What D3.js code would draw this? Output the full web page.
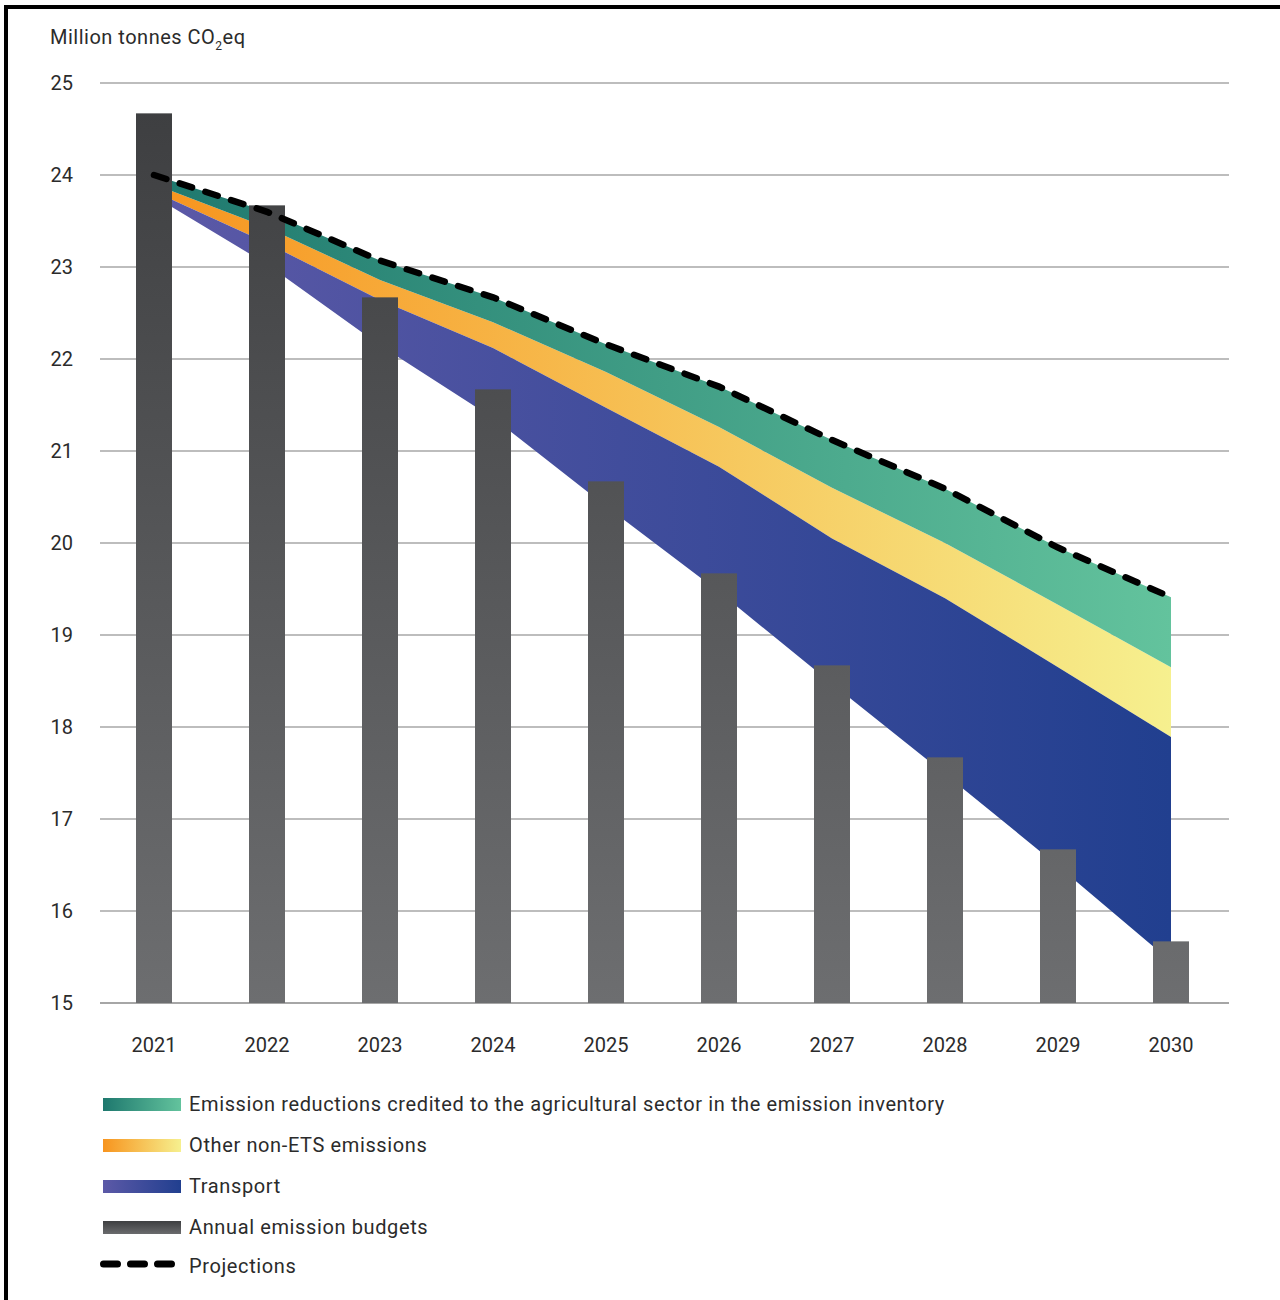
<!DOCTYPE html>
<html>
<head>
<meta charset="utf-8">
<script src="https://cdn.jsdelivr.net/npm/d3@7"></script>
<style>
  html, body { margin: 0; padding: 0; background: #fff; }
  svg { display: block; }
  text { font-family: Roboto, "Noto Sans", sans-serif; fill: #2b2b2b; }
</style>
</head>
<body>
<svg id="chart" width="1280" height="1300"></svg>
<script>
// Non-ETS emissions: annual budgets vs. projected path, 2021–2030
const years = [2021, 2022, 2023, 2024, 2025, 2026, 2027, 2028, 2029, 2030];
// Annual emission budgets (Mt CO2eq)
const budgets = [24.67, 23.67, 22.67, 21.67, 20.67, 19.67, 18.67, 17.67, 16.67, 15.67];
// Projected emissions (Mt CO2eq)
const projections = [24.0, 23.6, 23.07, 22.67, 22.16, 21.7, 21.12, 20.59, 19.95, 19.41];
// Layers stacked downward from the projection line (Mt CO2eq)
const agriCredits = [0.10, 0.17, 0.21, 0.27, 0.30, 0.44, 0.52, 0.59, 0.62, 0.76];
const otherNonEts = [0.08, 0.17, 0.22, 0.28, 0.39, 0.43, 0.55, 0.60, 0.68, 0.76];
const transport   = [0.05, 0.23, 0.49, 0.76, 1.07, 1.36, 1.58, 1.91, 2.16, 2.44];
const yTicks = [15, 16, 17, 18, 19, 20, 21, 22, 23, 24, 25];

const legendItems = [
  { label: "Emission reductions credited to the agricultural sector in the emission inventory", kind: "swatch", grad: "lg-green" },
  { label: "Other non-ETS emissions", kind: "swatch", grad: "lg-orange" },
  { label: "Transport", kind: "swatch", grad: "lg-blue" },
  { label: "Annual emission budgets", kind: "swatch", grad: "lg-gray" },
  { label: "Projections", kind: "dash" }
];

const svg = d3.select("#chart");

// Frame lines along the top and left edges
svg.append("path")
  .attr("d", "M6,1300 V7 H1280")
  .attr("fill", "none")
  .attr("stroke", "#000")
  .attr("stroke-width", 4);

const x = d3.scalePoint().domain(years).range([154, 1171]);
const y = d3.scaleLinear().domain([15, 25]).range([1003, 83]);
const gridX0 = 100, gridX1 = 1229;
const barW = 36;

// Gradients
const defs = svg.append("defs");
function hGrad(id, c0, c1, user) {
  const g = defs.append("linearGradient").attr("id", id);
  if (user) {
    g.attr("gradientUnits", "userSpaceOnUse")
      .attr("x1", x(years[0])).attr("x2", x(years[years.length - 1]))
      .attr("y1", 0).attr("y2", 0);
  } else {
    g.attr("x1", "0%").attr("x2", "100%").attr("y1", "0%").attr("y2", "0%");
  }
  g.append("stop").attr("offset", "0%").attr("stop-color", c0);
  g.append("stop").attr("offset", "100%").attr("stop-color", c1);
}
const green = ["#1e786e", "#63c39d"];
const orange = ["#f7941e", "#f6f08f"];
const blue = ["#5c59a7", "#213f8f"];
const gray = ["#3e3f41", "#6d6e70"];
hGrad("g-green", ...green, true);
hGrad("g-orange", ...orange, true);
hGrad("g-blue", ...blue, true);
hGrad("lg-green", ...green, false);
hGrad("lg-orange", ...orange, false);
hGrad("lg-blue", ...blue, false);
const barGrad = defs.append("linearGradient").attr("id", "g-bar")
  .attr("gradientUnits", "userSpaceOnUse")
  .attr("x1", 0).attr("x2", 0).attr("y1", y(24.7)).attr("y2", y(15));
barGrad.append("stop").attr("offset", "0%").attr("stop-color", gray[0]);
barGrad.append("stop").attr("offset", "100%").attr("stop-color", gray[1]);
const lgGray = defs.append("linearGradient").attr("id", "lg-gray")
  .attr("x1", "0%").attr("x2", "0%").attr("y1", "0%").attr("y2", "100%");
lgGray.append("stop").attr("offset", "0%").attr("stop-color", "#3e3f41");
lgGray.append("stop").attr("offset", "100%").attr("stop-color", "#6a6b6d");

// Axis title
const title = svg.append("text").attr("x", 50).attr("y", 44)
  .style("font-size", "20px").style("letter-spacing", "0.5px");
title.append("tspan").text("Million tonnes CO");
title.append("tspan").attr("dy", 6).style("font-size", "12px").text("2");
title.append("tspan").attr("dy", -6).text("eq");

// Horizontal grid
svg.append("g").selectAll("line").data(yTicks).join("line")
  .attr("x1", gridX0).attr("x2", gridX1)
  .attr("y1", d => y(d)).attr("y2", d => y(d))
  .attr("stroke", d => d === 15 ? "#a6a6a6" : "#7d7d7d")
  .attr("stroke-width", d => d === 15 ? 2 : 1.2);

// Y tick labels
svg.append("g").selectAll("text").data(yTicks).join("text")
  .attr("x", 73).attr("y", d => y(d)).attr("dy", "0.36em")
  .attr("text-anchor", "end").style("font-size", "20px")
  .text(d => d);

// Stacked layers below the projection line
const rows = years.map((yr, i) => {
  const top = projections[i];
  const a = top - agriCredits[i];
  const o = a - otherNonEts[i];
  const t = o - transport[i];
  return { yr, top, a, o, t };
});
const area = (lo, hi) => d3.area().x(d => x(d.yr)).y0(d => y(d[lo])).y1(d => y(d[hi]));
svg.append("path").datum(rows).attr("d", area("o", "a")).attr("fill", "url(#g-orange)");
svg.append("path").datum(rows).attr("d", area("t", "o")).attr("fill", "url(#g-blue)");
svg.append("path").datum(rows).attr("d", area("a", "top")).attr("fill", "url(#g-green)");

// Annual emission budget bars
svg.append("g").selectAll("rect").data(years).join("rect")
  .attr("x", d => x(d) - barW / 2)
  .attr("width", barW)
  .attr("y", (d, i) => y(budgets[i]))
  .attr("height", (d, i) => y(15) - y(budgets[i]))
  .attr("fill", "url(#g-bar)");

// Projection line
svg.append("path").datum(years.map((yr, i) => [x(yr), y(projections[i])]))
  .attr("d", d3.line())
  .attr("fill", "none").attr("stroke", "#000")
  .attr("stroke-width", 6.5).attr("stroke-linecap", "round")
  .attr("stroke-dasharray", "13,14");

// X tick labels
svg.append("g").selectAll("text").data(years).join("text")
  .attr("x", d => x(d)).attr("y", 1052)
  .attr("text-anchor", "middle").style("font-size", "20px")
  .text(d => d);

// Legend
const legend = svg.append("g");
const rowBase = [1111, 1152, 1193, 1234, 1273];
legendItems.forEach((it, i) => {
  const b = rowBase[i];
  if (it.kind === "swatch") {
    legend.append("rect").attr("x", 103).attr("y", b - 13).attr("width", 78).attr("height", 13)
      .attr("fill", `url(#${it.grad})`);
  } else {
    legend.append("line").attr("x1", 103.5).attr("x2", 173.5).attr("y1", b - 9).attr("y2", b - 9)
      .attr("stroke", "#000").attr("stroke-width", 7).attr("stroke-linecap", "round")
      .attr("stroke-dasharray", "14,13");
  }
  legend.append("text").attr("x", 189).attr("y", b)
    .style("font-size", "20px").style("letter-spacing", "0.62px").text(it.label);
});
</script>
</body>
</html>
